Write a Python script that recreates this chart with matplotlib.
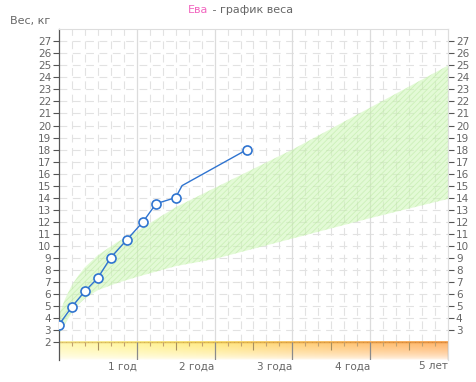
import numpy as np
import matplotlib
matplotlib.use("Agg")
import matplotlib.pyplot as plt
from matplotlib.collections import LineCollection

# измерения (возраст в месяцах, вес в кг)
ages = [0, 2, 4, 6, 8, 10.5, 13, 15, 18, 19, 29]
weights = [3.4, 4.9, 6.2, 7.3, 9.0, 10.5, 12.0, 13.5, 14.0, 15.0, 18.0]
has_marker = [True, True, True, True, True, True, True, True, True, False, True]

# коридор нормы
band_ages = [0, 1, 2, 3, 4, 6, 9, 12, 18, 24, 36, 48, 60]
band_low = [2.6, 3.5, 4.4, 5.1, 5.6, 6.3, 6.9, 7.4, 8.3, 8.9, 10.6, 12.3, 13.9]
band_high = [4.2, 5.6, 6.7, 7.5, 8.2, 9.2, 10.3, 11.2, 13.2, 14.8, 18.0, 21.5, 25.0]

year_ticks = [12, 24, 36, 48, 60]
year_labels = ["1 год", "2 года", "3 года", "4 года", "5 лет"]
left_ticks = list(range(2, 28))
right_ticks = list(range(3, 28))

grid_c = "#e2e2e2"
axis_c = "#555555"
text_c = "#666666"
blue = "#2f74d0"

plt.rcParams["hatch.linewidth"] = 0.6

fig = plt.figure(figsize=(4.76, 3.82), dpi=100)
ax = fig.add_axes([0.1233, 0.0576, 0.8185, 0.8657])
ax.set_xlim(0, 60)
ax.set_ylim(0.5, 28)

# сетка
minor = [m for m in range(2, 60, 2) if m % 12 != 0]
ax.vlines(minor, 2, 28, colors=grid_c, linewidth=0.8, linestyles=(0, (7, 5)), zorder=0)
ax.hlines(range(3, 28), 0, 60, colors=grid_c, linewidth=0.8, linestyles=(0, (7, 5)), zorder=0)
ax.vlines(year_ticks[:-1], 2, 28, colors="#dcdcdc", linewidth=0.9, zorder=0)

# коридор
ax.fill_between(band_ages, band_low, band_high, facecolor="#c9f7ae", alpha=0.5,
                edgecolor="#b6e79c", linewidth=0, hatch="//////", zorder=1)

# полоса с градиентом внизу
xs = np.linspace(0, 60, 300)
stops_x = [0, 12, 24, 36, 48, 60]
r = np.full_like(xs, 255.0)
g = np.interp(xs, stops_x, [248, 244, 232, 208, 190, 178])
b = np.interp(xs, stops_x, [175, 150, 125, 115, 108, 100])
rows = 40
fade = (1 - np.linspace(0, 1, rows)) ** 0.55
img = np.zeros((rows, len(xs), 4))
img[..., 0] = r / 255
img[..., 1] = g / 255
img[..., 2] = b / 255
img[..., 3] = fade[:, None]
ax.imshow(img, extent=[0, 60, 0.5, 2], aspect="auto", origin="upper", zorder=1,
          interpolation="bilinear")
seg = [[(xs[i], 2), (xs[i + 1], 2)] for i in range(len(xs) - 1)]
seg_cols = [(r[i] / 255 * 0.85, g[i] / 255 * 0.75, b[i] / 255 * 0.55) for i in range(len(xs) - 1)]
ax.add_collection(LineCollection(seg, colors=seg_cols, linewidth=1.0, zorder=2))
short = [m for m in minor if m % 6 != 0]
mid = [m for m in minor if m % 6 == 0]
ax.vlines(short, 1.65, 2, colors="#c0a070", linewidth=0.8, zorder=2)
ax.vlines(mid, 1.3, 2, colors="#a89060", linewidth=0.8, zorder=2)
ax.vlines(year_ticks, 0.5, 2, colors="#8a8a8a", linewidth=0.9, zorder=2)

# линия веса
ax.plot(ages, weights, color=blue, linewidth=1.0, zorder=3)
mx = [a for a, m in zip(ages, has_marker) if m]
my = [w for w, m in zip(weights, has_marker) if m]
ax.plot(mx, my, linestyle="none", marker="o", markersize=6.5, markerfacecolor="white",
        markeredgecolor=blue, markeredgewidth=1.2, zorder=4)

# оси
ax.spines["bottom"].set_visible(False)
ax.spines["left"].set_color(axis_c)
ax.spines["left"].set_linewidth(0.9)
ax.spines["top"].set_color("#dddddd")
ax.spines["right"].set_color("#dddddd")
ax.set_yticks(left_ticks)
ax.set_yticklabels([str(t) for t in left_ticks])
ax.tick_params(axis="y", length=4, width=0.8, color=axis_c, labelcolor=text_c,
               labelsize=7.5, pad=1.5)
ax.set_xticks(year_ticks)
ax.set_xticklabels(year_labels, ha="right")
ax.tick_params(axis="x", length=0, labelcolor=text_c, labelsize=7.5, pad=1)

ax2 = ax.twinx()
ax2.set_ylim(0.5, 28)
ax2.set_yticks(right_ticks)
ax2.set_yticklabels([str(t) for t in right_ticks])
ax2.tick_params(axis="y", length=4, width=0.8, color=axis_c, labelcolor=text_c,
                labelsize=7.5, pad=1.5)
for s in ["left", "top", "bottom"]:
    ax2.spines[s].set_visible(False)
ax2.spines["right"].set_color("#dddddd")

fig.text(0.021, 0.945, "Вес, кг", color=text_c, fontsize=8, va="center")
fig.text(0.395, 0.975, "Ева", color="#f266c0", fontsize=8, va="center")
fig.text(0.44, 0.975, " - график веса", color=text_c, fontsize=8, va="center")

fig.savefig("out.png", dpi=100)
